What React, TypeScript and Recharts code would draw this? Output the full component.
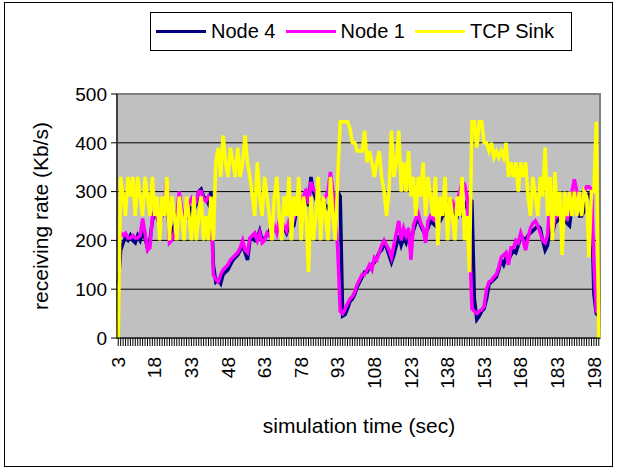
import { CartesianGrid, Label, Line, LineChart, ReferenceArea, XAxis, YAxis } from 'recharts'

// simulation time (sec), one category per second
const times = Array.from({ length: 198 }, (_, i) => 3 + i)

const node4 = [
  110, 180, 195, 205, 200, 210, 200, 195, 210, 200,
  215, 205, 185, 200, 240, 260, 250, 240, 250, 270,
  300, 210, 220, 230, 255, 270, 250, 240, 255, 245,
  265, 260, 275, 300, 305, 290, 285, 275, 300, 150,
  115, 120, 112, 130, 135, 140, 150, 160, 165, 170,
  180, 190, 175, 160, 200, 205, 200, 205, 220, 200,
  205, 210, 220, 215, 225, 220, 230, 220, 225, 215,
  230, 225, 230, 260, 290, 275, 280, 295, 270, 330,
  300, 285, 290, 275, 280, 270, 265, 280, 275, 285,
  300, 290, 45, 48, 60, 75, 80, 90, 105, 115,
  125, 135, 135, 145, 150, 155, 165, 175, 180, 195,
  185, 170, 155, 170, 190, 210, 190, 205, 195, 215,
  200, 220, 235, 245, 230, 220, 215, 225, 240, 235,
  230, 245, 240, 250, 255, 265, 260, 270, 255, 250,
  270, 255, 270, 280, 285, 280, 80, 38, 45, 55,
  60, 80, 110, 115, 120, 125, 140, 160, 150, 165,
  160, 170, 180, 175, 190, 210, 205, 200, 210, 215,
  220, 225, 230, 225, 200, 180, 190, 230, 215, 235,
  240, 250, 245, 240, 235, 230, 270, 275, 260, 250,
  250, 260, 290, 295, 280, 90, 50, 45,
]

const node1 = [
  200, 215, 210, 215, 205, 205, 210, 205, 205, 210,
  245, 215, 180, 185, 250, 260, 245, 230, 255, 280,
  325, 195, 200, 215, 250, 300, 265, 250, 260, 275,
  285, 270, 280, 300, 300, 285, 280, 290, 285, 130,
  120, 115, 130, 140, 145, 150, 160, 165, 170, 175,
  185, 200, 180, 175, 205, 210, 215, 200, 215, 195,
  200, 215, 210, 220, 230, 215, 240, 225, 230, 220,
  240, 235, 245, 270, 300, 280, 290, 305, 275, 320,
  305, 300, 280, 270, 285, 290, 300, 340, 300, 260,
  180, 55, 50, 60, 70, 80, 85, 95, 110, 120,
  130, 130, 140, 150, 140, 165, 160, 175, 190, 200,
  190, 180, 165, 190, 215, 240, 200, 225, 210, 225,
  160, 230, 245, 255, 235, 225, 195, 240, 250, 245,
  240, 250, 255, 265, 270, 275, 285, 280, 265, 280,
  300, 320, 315, 290, 200, 60, 55, 50, 55, 58,
  65, 100, 115, 118, 125, 130, 145, 165, 170, 175,
  150, 185, 185, 200, 195, 215, 200, 180, 205, 225,
  235, 240, 230, 215, 200, 195, 210, 285, 220, 245,
  250, 255, 240, 250, 245, 260, 300, 325, 300, 270,
  280, 300, 310, 310, 305, 155, 55, 50,
]

const tcpSink = [
  0, 330, 290, 250, 330, 290, 330, 250, 330, 290,
  250, 330, 290, 250, 330, 250, 290, 200, 290, 250,
  330, 200, 290, 250, 200, 290, 250, 200, 290, 250,
  200, 290, 200, 250, 290, 200, 250, 200, 290, 200,
  360, 390, 330, 415, 360, 330, 390, 360, 330, 390,
  330, 360, 415, 360, 330, 290, 250, 360, 290, 250,
  330, 290, 250, 200, 290, 330, 250, 200, 290, 250,
  330, 200, 290, 250, 330, 200, 290, 250, 135, 290,
  200, 250, 330, 200, 290, 250, 200, 330, 250, 200,
  330, 443, 443, 443, 443, 430, 400, 400, 383, 383,
  383, 425, 360, 383, 360, 330, 360, 383, 330, 300,
  250, 300, 425, 330, 360, 425, 300, 360, 300, 383,
  290, 330, 250, 330, 290, 360, 250, 330, 290, 250,
  330, 190, 290, 250, 330, 200, 290, 250, 200, 290,
  250, 330, 200, 250, 135, 443, 443, 390, 443, 443,
  400, 400, 383, 400, 370, 383, 370, 383, 370, 400,
  330, 360, 330, 360, 300, 360, 330, 360, 290, 250,
  330, 290, 250, 330, 290, 390, 250, 330, 200, 340,
  250, 300, 170, 300, 250, 300, 250, 300, 250, 300,
  250, 300, 290, 165, 300, 300, 443, 0,
]

const yTicks = [0, 100, 200, 300, 400, 500]

const series = [
  { key: 'node4', name: 'Node 4', color: '#000080' },
  { key: 'node1', name: 'Node 1', color: '#FF00FF' },
  { key: 'tcpSink', name: 'TCP Sink', color: '#FFFF00' },
]

const data = times.map((t, i) => ({
  time: t,
  node4: node4[i],
  node1: node1[i],
  tcpSink: tcpSink[i],
}))

const font = '"Liberation Sans", Arial, sans-serif'

function TimeTick(props: any) {
  const { x, y, payload, index } = props
  if (index % 15 !== 0) return <g />
  return (
    <text
      x={x}
      y={y}
      transform={`rotate(-90, ${x}, ${y})`}
      textAnchor="end"
      dy="0.35em"
      fontSize={19}
      fontFamily={font}
      fill="#000"
    >
      {payload.value}
    </text>
  )
}

export default function App() {
  return (
    <div style={{ position: 'absolute', left: 0, top: 0, width: 618, height: 472, background: '#fff', fontFamily: font }}>
      <div style={{ position: 'absolute', left: 4, top: 2, width: 607, height: 463, border: '1px solid #000' }} />

      <div
        style={{
          position: 'absolute', left: 150, top: 12, width: 420, height: 37,
          border: '1px solid #000', background: '#fff', display: 'flex',
          alignItems: 'center', fontSize: 20, color: '#000', zIndex: 2,
        }}
      >
        {series.map((s) => (
          <div key={s.key} style={{ display: 'flex', alignItems: 'center', marginLeft: 5, marginRight: 5 }}>
            <span style={{ display: 'inline-block', width: 50, height: 3, background: s.color, marginRight: 5 }} />
            <span>{s.name}</span>
          </div>
        ))}
      </div>

      <div style={{ position: 'absolute', left: 0, top: 0 }}>
        <LineChart width={618} height={472} data={data} margin={{ top: 94, right: 18, left: 0, bottom: 0 }}>
          <CartesianGrid vertical={false} stroke="#000" fill="#C0C0C0" fillOpacity={1} />
          <ReferenceArea y1={0} y2={500} fill="none" stroke="#808080" strokeWidth={2} />
          <XAxis
            dataKey="time"
            scale="band"
            interval={0}
            height={134}
            tickSize={8}
            tickMargin={11}
            tick={<TimeTick />}
            tickLine={{ stroke: '#000' }}
            axisLine={{ stroke: '#000' }}
          >
            <Label
              content={() => (
                <text x={359} y={433} textAnchor="middle" fontSize={21} fontFamily={font} fill="#000">
                  simulation time (sec)
                </text>
              )}
            />
          </XAxis>
          <YAxis
            domain={[0, 500]}
            ticks={yTicks}
            interval={0}
            width={117}
            tickSize={6}
            tickMargin={4}
            tick={{ fontSize: 19, fill: '#000', fontFamily: font }}
            tickLine={{ stroke: '#000' }}
            axisLine={{ stroke: '#000' }}
          >
            <Label
              content={() => (
                <text
                  x={40}
                  y={216}
                  transform="rotate(-90, 40, 216)"
                  textAnchor="middle"
                  dominantBaseline="central"
                  fontSize={21}
                  fontFamily={font}
                  fill="#000"
                >
                  receiving rate (Kb/s)
                </text>
              )}
            />
          </YAxis>
          {series.map((s) => (
            <Line
              key={s.key}
              type="linear"
              dataKey={s.key}
              name={s.name}
              stroke={s.color}
              strokeWidth={3.5}
              dot={false}
              isAnimationActive={false}
            />
          ))}
        </LineChart>
      </div>
    </div>
  )
}
